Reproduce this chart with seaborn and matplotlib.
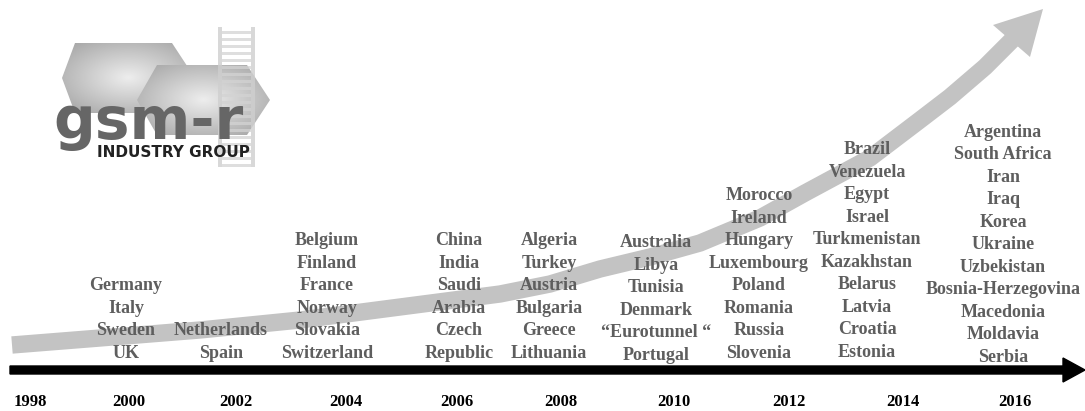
import numpy as np
import pandas as pd
import matplotlib; matplotlib.use('Agg')
import matplotlib.pyplot as plt
from matplotlib.patches import Polygon, FancyArrow, Rectangle
import seaborn as sns

sns.set_theme(style='white')
plt.rcParams['font.family'] = ['Liberation Serif', 'DejaVu Serif']

# ===== DATA =====
years = [1998, 2000, 2002, 2004, 2006, 2008, 2010, 2012, 2014, 2016]

c2000 = ['Germany', 'Italy', 'Sweden', 'UK']
c2002 = ['Netherlands', 'Spain']
c2004 = ['Belgium', 'Finland', 'France', 'Norway', 'Slovakia', 'Switzerland']
c2006 = ['China', 'India', 'Saudi', 'Arabia', 'Czech', 'Republic']
c2008 = ['Algeria', 'Turkey', 'Austria', 'Bulgaria', 'Greece', 'Lithuania']
c2010 = ['Australia', 'Libya', 'Tunisia', 'Denmark', '“Eurotunnel “', 'Portugal']
c2012 = ['Morocco', 'Ireland', 'Hungary', 'Luxembourg', 'Poland', 'Romania', 'Russia', 'Slovenia']
c2014 = ['Brazil', 'Venezuela', 'Egypt', 'Israel', 'Turkmenistan', 'Kazakhstan',
         'Belarus', 'Latvia', 'Croatia', 'Estonia']
c2016 = ['Argentina', 'South Africa', 'Iran', 'Iraq', 'Korea', 'Ukraine', 'Uzbekistan',
         'Bosnia-Herzegovina', 'Macedonia', 'Moldavia', 'Serbia']
columns = [c2000, c2002, c2004, c2006, c2008, c2010, c2012, c2014, c2016]

# growth arrow path (pixel space of the picture)
trend_x = [12, 100, 200, 300, 400, 500, 550, 600, 650, 700, 760, 805, 870, 920, 950, 985, 1012]
trend_y = [345, 338, 330, 320, 307, 294, 284, 269, 257, 243, 218, 193, 158, 120, 97, 67, 40]

# ===== LAYOUT =====
year_x = [30, 129, 236, 346, 457, 561, 674, 789, 903, 1015]
col_x = [126, 221, 327, 459, 549, 656, 759, 867, 1003]
col_bottom = [353, 353, 353, 353, 353, 355, 353, 352, 357]
line_h = 22.5
TXT = '#5e5e5e'

fig = plt.figure(figsize=(10.85, 4.11), dpi=100)
ax = fig.add_axes([0, 0, 1, 1])

# logo hexagons with soft gradient
gy, gx = np.mgrid[-1:1:200j, -1:1:200j]
grad = 0.93 - 0.30 * np.sqrt(gx**2 + gy**2) / 1.4
for verts in [[(75, 43), (172, 43), (195, 78), (172, 113), (75, 113), (62, 78)],
              [(157, 65), (247, 65), (270, 100), (247, 135), (157, 135), (137, 100)]]:
    poly = Polygon(verts, closed=True, facecolor='none', edgecolor='none')
    ax.add_patch(poly)
    xs = [v[0] for v in verts]; ys = [v[1] for v in verts]
    im = ax.imshow(grad, cmap='gray', vmin=0, vmax=1, extent=(min(xs), max(xs), max(ys), min(ys)),
                   interpolation='bilinear', zorder=1)
    im.set_clip_path(poly)

# rail ladder
for rx in [218, 251]:
    ax.add_patch(Rectangle((rx, 27), 4, 140, color='#cfcfcf', alpha=0.8, zorder=2, lw=0))
for ry in np.arange(31, 165, 7):
    ax.add_patch(Rectangle((222, ry), 29, 3, color='#d3d3d3', alpha=0.75, zorder=2, lw=0))

ax.text(53, 139, 'gsm-r', fontsize=42, fontweight='bold', family='DejaVu Sans',
        color='#666666', ha='left', va='baseline', zorder=3)
ax.text(97, 157, 'INDUSTRY GROUP', fontsize=11, fontweight='bold', family='DejaVu Sans',
        color='#222222', ha='left', va='baseline', zorder=3)

# grey growth arrow
trend = pd.DataFrame({'x': trend_x, 'y': trend_y})
sns.lineplot(data=trend, x='x', y='y', sort=False, color='#c3c3c3', lw=12.5,
             solid_capstyle='butt', ax=ax, zorder=2)
ax.add_patch(Polygon([(1043, 9), (993, 25), (1030, 57)], closed=True,
                     facecolor='#c3c3c3', edgecolor='none', zorder=2))

# timeline
ax.add_patch(FancyArrow(10, 370, 1075, 0, width=8, head_width=24, head_length=22,
                        length_includes_head=True, color='black', zorder=3))

for yr, x in zip(years, year_x):
    ax.text(x, 402, str(yr), fontsize=12, fontweight='bold', color='black',
            ha='center', va='center', zorder=4)

for names, x, yb in zip(columns, col_x, col_bottom):
    n = len(names)
    for i, name in enumerate(names):
        ax.text(x, yb - (n - 1 - i) * line_h, name, fontsize=13, fontweight='bold',
                color=TXT, ha='center', va='center', zorder=4)

ax.set_xlim(0, 1085)
ax.set_ylim(411, 0)
ax.axis('off')
plt.savefig('out.png', dpi=100)
